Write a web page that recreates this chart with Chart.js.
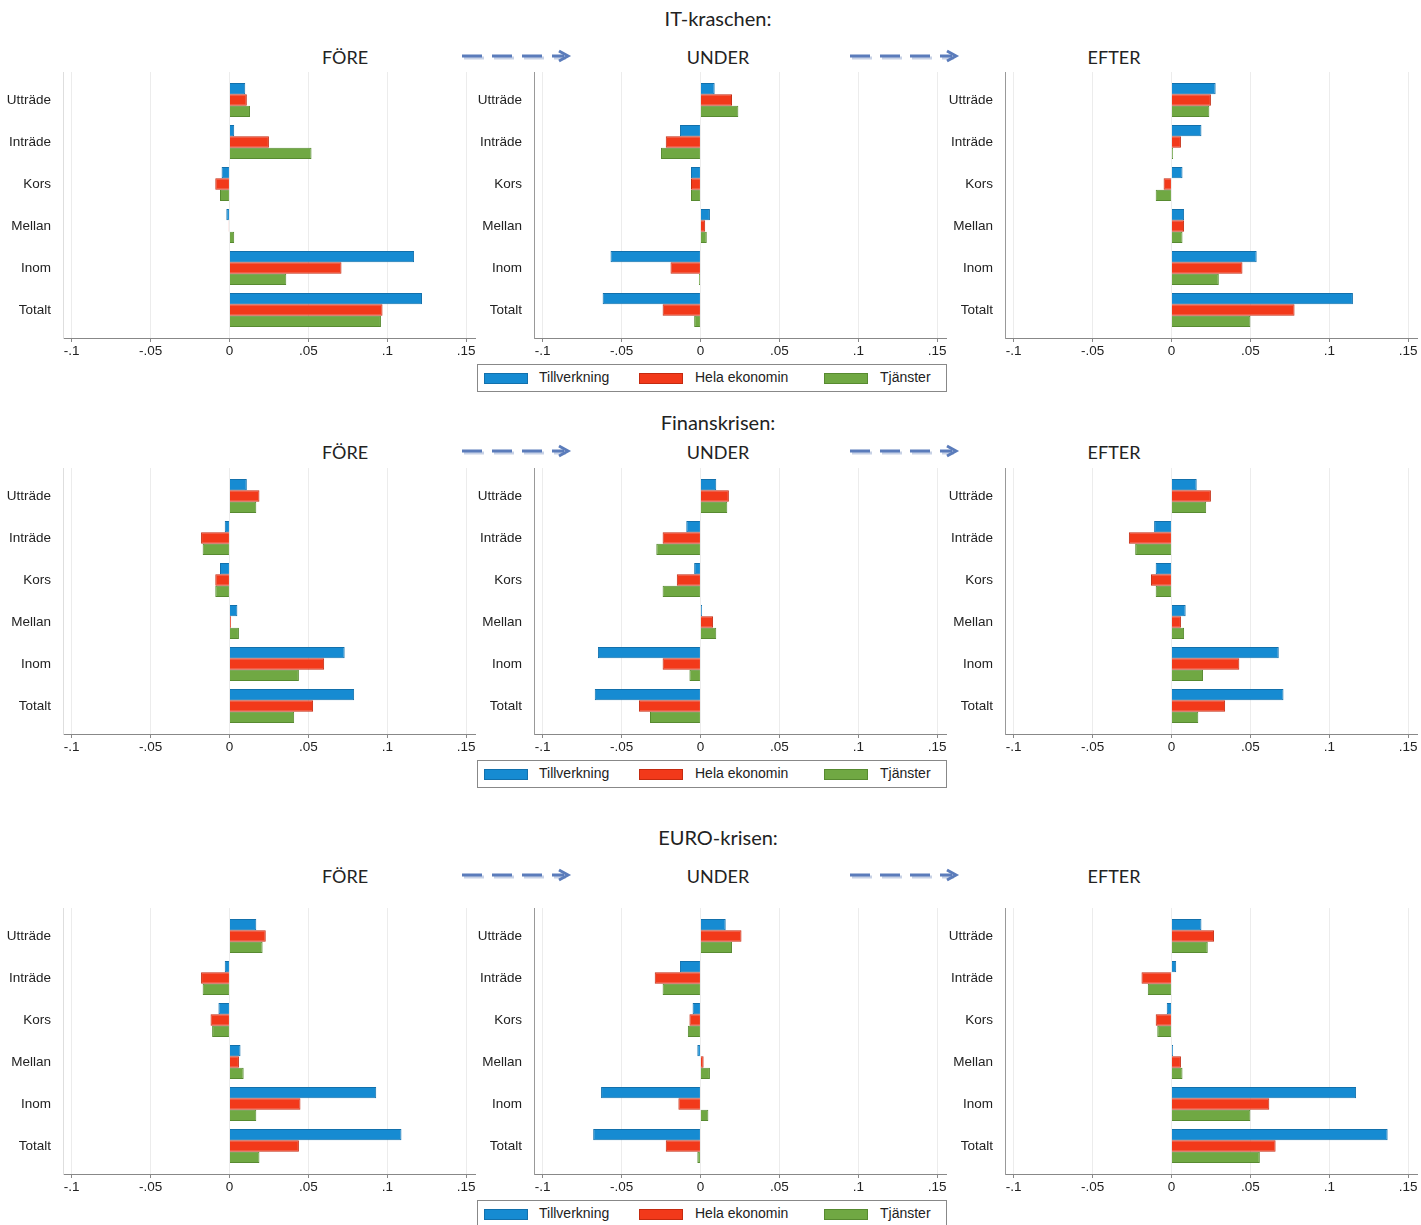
<!DOCTYPE html>
<html>
<head>
<meta charset="utf-8">
<script src="https://cdn.jsdelivr.net/npm/chart.js@4.4.1/dist/chart.umd.min.js"></script>
<style>
  body { margin: 0; background: #fff; }
  #page { position: relative; width: 1421px; height: 1225px; overflow: hidden; font-family: "Liberation Sans", Arial, sans-serif; }
  canvas { position: absolute; }
  .title { position: absolute; transform: translate(-50%, -50%); white-space: nowrap; font-family: Lato, "Open Sans", sans-serif; color: #222; }
  .big { font-size: 20px; }
  .head { font-size: 18px; }
  .arrow { position: absolute; }
  .legend { position: absolute; width: 468px; height: 26px; border: 1px solid #888; background: #fff; }
  .legend span { position: absolute; }
  .sw { top: 8px; width: 42px; height: 9px; border: 1px solid; }
  .lt { top: 4px; font-size: 14px; color: #222; white-space: nowrap; }
</style>
</head>
<body>
<div id="page"></div>
<script>
// categories + series
var cats = ["Utträde", "Inträde", "Kors", "Mellan", "Inom", "Totalt"];
var seriesNames = ["Tillverkning", "Hela ekonomin", "Tjänster"];
var xTicks = [-0.1, -0.05, 0, 0.05, 0.1, 0.15];
var xTickLabels = ["-.1", "-.05", "0", ".05", ".1", ".15"];
var crises = ["IT-kraschen:", "Finanskrisen:", "EURO-krisen:"];
var periods = ["FÖRE", "UNDER", "EFTER"];

// IT-kraschen
var itForeTill = [0.010, 0.003, -0.005, -0.002, 0.117, 0.122];
var itForeHela = [0.011, 0.025, -0.009, -0.0005, 0.071, 0.097];
var itForeTjan = [0.013, 0.052, -0.006, 0.003, 0.036, 0.096];
var itUnderTill = [0.009, -0.013, -0.006, 0.006, -0.057, -0.062];
var itUnderHela = [0.020, -0.022, -0.006, 0.003, -0.019, -0.024];
var itUnderTjan = [0.024, -0.025, -0.006, 0.004, -0.001, -0.004];
var itEfterTill = [0.028, 0.019, 0.007, 0.008, 0.054, 0.115];
var itEfterHela = [0.025, 0.006, -0.005, 0.008, 0.045, 0.078];
var itEfterTjan = [0.024, 0.001, -0.010, 0.007, 0.030, 0.050];

// Finanskrisen
var finForeTill = [0.011, -0.003, -0.006, 0.005, 0.073, 0.079];
var finForeHela = [0.019, -0.018, -0.009, 0.001, 0.060, 0.053];
var finForeTjan = [0.017, -0.017, -0.009, 0.006, 0.044, 0.041];
var finUnderTill = [0.010, -0.009, -0.004, 0.001, -0.065, -0.067];
var finUnderHela = [0.018, -0.024, -0.015, 0.008, -0.024, -0.039];
var finUnderTjan = [0.017, -0.028, -0.024, 0.010, -0.007, -0.032];
var finEfterTill = [0.016, -0.011, -0.010, 0.009, 0.068, 0.071];
var finEfterHela = [0.025, -0.027, -0.013, 0.006, 0.043, 0.034];
var finEfterTjan = [0.022, -0.023, -0.010, 0.008, 0.020, 0.017];

// EURO-krisen
var euroForeTill = [0.017, -0.003, -0.007, 0.007, 0.093, 0.109];
var euroForeHela = [0.023, -0.018, -0.012, 0.006, 0.045, 0.044];
var euroForeTjan = [0.021, -0.017, -0.011, 0.009, 0.017, 0.019];
var euroUnderTill = [0.016, -0.013, -0.005, -0.002, -0.063, -0.068];
var euroUnderHela = [0.026, -0.029, -0.007, 0.002, -0.014, -0.022];
var euroUnderTjan = [0.020, -0.024, -0.008, 0.006, 0.005, -0.002];
var euroEfterTill = [0.019, 0.003, -0.003, 0.001, 0.117, 0.137];
var euroEfterHela = [0.027, -0.019, -0.010, 0.006, 0.062, 0.066];
var euroEfterTjan = [0.023, -0.015, -0.009, 0.007, 0.050, 0.056];

var panels = [
  [[itForeTill, itForeHela, itForeTjan], [itUnderTill, itUnderHela, itUnderTjan], [itEfterTill, itEfterHela, itEfterTjan]],
  [[finForeTill, finForeHela, finForeTjan], [finUnderTill, finUnderHela, finUnderTjan], [finEfterTill, finEfterHela, finEfterTjan]],
  [[euroForeTill, euroForeHela, euroForeTjan], [euroUnderTill, euroUnderHela, euroUnderTjan], [euroEfterTill, euroEfterHela, euroEfterTjan]]
];

var fills = ["#168bd2", "#f2391a", "#70a843"];
var edges = ["#1270ac", "#c42a10", "#578a30"];

// layout
var colLeft = [0, 471, 942];
var rowTop = [72, 468, 908];
var titleY = [18, 422, 837];
var headY = [57, 452, 876];
var headX = [345, 718, 1114];
var legendY = [364, 760, 1200];
var yLineColor = ["#dedede", "#999", "#999"];   // first column axis is faint
var axisW = 63;
var catPad = 0.1667;

var page = document.getElementById("page");

function addText(txt, x, y, cls) {
  var d = document.createElement("div");
  d.className = "title " + cls;
  d.style.left = x + "px";
  d.style.top = y + "px";
  d.textContent = txt;
  page.appendChild(d);
}

function addArrow(x, y) {
  var ns = "http://www.w3.org/2000/svg";
  var s = document.createElementNS(ns, "svg");
  s.setAttribute("class", "arrow");
  s.setAttribute("width", "112");
  s.setAttribute("height", "16");
  s.style.left = x + "px";
  s.style.top = (y - 8) + "px";
  s.innerHTML =
    '<line x1="2" y1="9" x2="104" y2="9" stroke="#c8d2e6" stroke-width="3" stroke-dasharray="20 10"/>' +
    '<line x1="0" y1="7" x2="102" y2="7" stroke="#5b7cbb" stroke-width="3" stroke-dasharray="20 10"/>' +
    '<polyline points="97,2 106,7 97,12" fill="none" stroke="#5b7cbb" stroke-width="3"/>';
  page.appendChild(s);
}

function addLegend(y) {
  var box = document.createElement("div");
  box.className = "legend";
  box.style.left = "477px";
  box.style.top = y + "px";
  var swX = [6, 161, 346];
  var txX = [61, 217, 402];
  for (var i = 0; i < seriesNames.length; i++) {
    var sw = document.createElement("span");
    sw.className = "sw";
    sw.style.left = swX[i] + "px";
    sw.style.background = fills[i];
    sw.style.borderColor = edges[i];
    box.appendChild(sw);
    var t = document.createElement("span");
    t.className = "lt";
    t.style.left = txX[i] + "px";
    t.textContent = seriesNames[i];
    box.appendChild(t);
  }
  page.appendChild(box);
}

function makePanel(r, c) {
  var cv = document.createElement("canvas");
  cv.width = 478;
  cv.height = 300;
  cv.style.left = colLeft[c] + "px";
  cv.style.top = rowTop[r] + "px";
  page.appendChild(cv);

  var sets = [];
  for (var k = 0; k < 3; k++) {
    sets.push({
      label: seriesNames[k],
      data: panels[r][c][k],
      backgroundColor: fills[k],
      borderColor: edges[k],
      borderWidth: 1,
      categoryPercentage: 0.81,
      barPercentage: 1.0
    });
  }

  new Chart(cv, {
    type: "bar",
    data: { labels: cats, datasets: sets },
    options: {
      indexAxis: "y",
      responsive: false,
      animation: false,
      events: [],
      layout: { padding: { left: 0, top: 0, right: 3, bottom: 4 } },
      plugins: { legend: { display: false }, tooltip: { enabled: false } },
      scales: {
        x: {
          min: -0.1055,
          max: 0.1556,
          afterBuildTicks: function (s) {
            s.ticks = xTicks.map(function (v) { return { value: v }; });
          },
          afterFit: function (s) { s.height = 30; },
          ticks: {
            autoSkip: false,
            maxRotation: 0,
            padding: 1,
            color: "#222",
            font: { family: "'Liberation Sans', Arial", size: 13.5 },
            callback: function (v, i) { return xTickLabels[i]; }
          },
          grid: { color: "#ececec", tickColor: "#888", tickLength: 4 },
          border: { color: "#888", width: 1 }
        },
        y: {
          afterBuildTicks: function (s) {
            s._startValue = -0.5 - catPad;
            s._valueRange = cats.length + 2 * catPad;
          },
          afterFit: function (s) {
            s.width = axisW;
            s.paddingTop = 0;
            s.paddingBottom = 0;
          },
          ticks: {
            padding: 4,
            color: "#222",
            font: { family: "'Liberation Sans', Arial", size: 13.5 }
          },
          grid: { display: false },
          border: { color: yLineColor[c], width: 1 }
        }
      }
    }
  });
}

for (var r = 0; r < 3; r++) {
  addText(crises[r], 718, titleY[r], "big");
  for (var c = 0; c < 3; c++) {
    addText(periods[c], headX[c], headY[r], "head");
    makePanel(r, c);
  }
  addArrow(462, headY[r]);
  addArrow(850, headY[r]);
  addLegend(legendY[r]);
}
</script>
</body>
</html>
